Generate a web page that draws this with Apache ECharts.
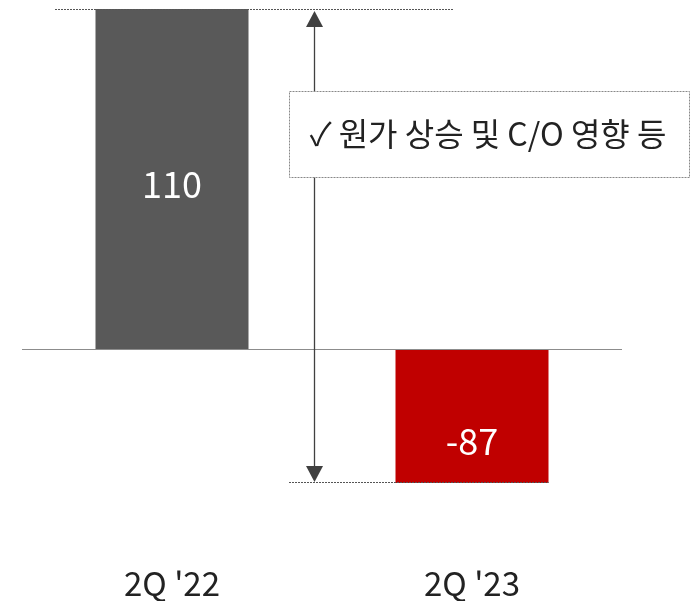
<!DOCTYPE html>
<html><head><meta charset="utf-8">
<script src="https://cdn.jsdelivr.net/npm/echarts@6/dist/echarts.min.js"></script>
<style>html,body{margin:0;padding:0;background:#fff}#c{width:691px;height:601px}</style>
</head><body><div id="c"></div>
<script>
const categories = ["2Q '22", "2Q '23"];
const values = [110, -87];
const barColors = ['#595959', '#C00000'];
const noteText = '✓ 원가 상승 및 C/O 영향 등';

const chart = echarts.init(document.getElementById('c'), null, {renderer: 'canvas'});
const FONT = '"Noto Sans CJK KR","Noto Sans",sans-serif';
// each bar drawn on its own value axis, both sharing the zero line
const zeroFrac = 340 / 474;
const posMax = values[0];
const posMin = -posMax * (1 - zeroFrac) / zeroFrac;
const negMin = values[1];
const negMax = -negMin * zeroFrac / (1 - zeroFrac);

chart.setOption({
  animation: false,
  grid: {left: 22, right: 69, top: 9, bottom: 118},
  xAxis: {
    type: 'category', data: categories,
    axisLine: {show: false}, axisTick: {show: false},
    axisLabel: {color: '#222', fontSize: 33, fontFamily: FONT, margin: 84}
  },
  yAxis: [
    {type: 'value', min: posMin, max: posMax, show: false, splitLine: {show: false}},
    {type: 'value', min: negMin, max: negMax, show: false, splitLine: {show: false}}
  ],
  series: [
    {
      type: 'bar', yAxisIndex: 0, barWidth: 153, barGap: '-100%',
      data: [values[0], '-'],
      itemStyle: {color: barColors[0]},
      label: {show: true, position: 'inside', offset: [0, 5], color: '#fff', fontSize: 36, fontFamily: FONT},
      markLine: {
        silent: true, symbol: 'none', label: {show: false},
        lineStyle: {color: '#8c8c8c', width: 1, type: 'solid'},
        data: [{yAxis: 0}]
      }
    },
    {
      type: 'bar', yAxisIndex: 1, barWidth: 153, barGap: '-100%',
      data: ['-', values[1]],
      itemStyle: {color: barColors[1]},
      label: {show: true, position: 'inside', offset: [0, 25], color: '#fff', fontSize: 36, fontFamily: FONT}
    }
  ]
});

const yTop = chart.convertToPixel({yAxisIndex: 0}, values[0]);
const yBot = chart.convertToPixel({yAxisIndex: 1}, values[1]);
const x1 = chart.convertToPixel({xAxisIndex: 0}, 1);
const ax = 314;
const dotted = {stroke: '#555', lineWidth: 1, lineDash: [2, 1]};
chart.setOption({
  graphic: [
    {type: 'line', shape: {x1: 55, y1: yTop + 0.5, x2: 454, y2: yTop + 0.5}, style: dotted, z: 10},
    {type: 'line', shape: {x1: 289, y1: yBot - 0.5, x2: x1 + 76.5, y2: yBot - 0.5}, style: dotted, z: 10},
    {type: 'line', shape: {x1: ax + 0.5, y1: yTop + 14, x2: ax + 0.5, y2: yBot - 14}, style: {stroke: '#404040', lineWidth: 1.3}, z: 10},
    {type: 'polygon', shape: {points: [[ax + 0.5, yTop + 2], [ax - 8, yTop + 18], [ax + 9, yTop + 18]]}, style: {fill: '#404040'}, z: 10},
    {type: 'polygon', shape: {points: [[ax + 0.5, yBot - 1], [ax - 8, yBot - 17], [ax + 9, yBot - 17]]}, style: {fill: '#404040'}, z: 10},
    {type: 'rect', shape: {x: 289.5, y: 91.5, width: 400, height: 86}, style: {fill: '#fff', stroke: '#888', lineWidth: 1, lineDash: [2, 1]}, z: 11},
    {type: 'text', x: 488, y: 134, style: {text: noteText, fill: '#222', font: '32px ' + FONT, textAlign: 'center', textVerticalAlign: 'middle'}, z: 12}
  ]
});
</script></body></html>
